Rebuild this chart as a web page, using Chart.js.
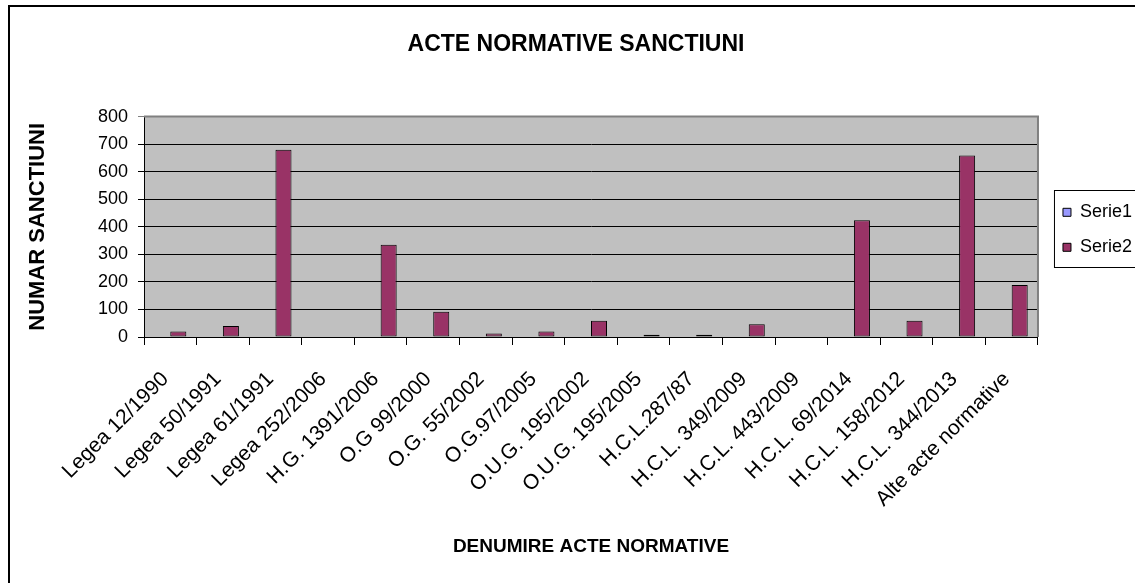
<!DOCTYPE html>
<html>
<head>
<meta charset="utf-8">
<script src="https://cdn.jsdelivr.net/npm/chart.js@4.4.1/dist/chart.umd.min.js"></script>
<style>
  html, body { margin: 0; padding: 0; background: #fff; overflow: hidden; }
  #wrap { width: 1135px; height: 583px; overflow: hidden; }
  canvas { display: block; }
</style>
</head>
<body>
<div id="wrap"><canvas id="chart" width="1142" height="583"></canvas></div>
<script>
// date
const categories = [
  'Legea 12/1990', 'Legea 50/1991', 'Legea 61/1991', 'Legea 252/2006',
  'H.G. 1391/2006', 'O.G 99/2000', 'O.G. 55/2002', 'O.G.97/2005',
  'O.U.G. 195/2002', 'O.U.G. 195/2005', 'H.C.L.287/87', 'H.C.L. 349/2009',
  'H.C.L. 443/2009', 'H.C.L. 69/2014', 'H.C.L. 158/2012', 'H.C.L. 344/2013',
  'Alte acte normative'
];
const serie1 = [null, null, null, null, null, null, null, null, null, null, null, null, null, null, null, null, null];
const serie2 = [20, 40, 680, 0, 335, 92, 13, 20, 59, 8, 8, 46, 0, 424, 59, 659, 189];
const yTicks = [0, 100, 200, 300, 400, 500, 600, 700, 800];

const FONT = "'Liberation Sans', Arial, sans-serif";
Chart.defaults.font.family = FONT;
Chart.defaults.color = '#000';

// fundal gri, chenare
const frame = {
  id: 'frame',
  beforeDraw(chart) {
    const { ctx, chartArea: a } = chart;
    ctx.save();
    ctx.fillStyle = '#fff';
    ctx.fillRect(0, 0, chart.width, chart.height);
    ctx.fillStyle = '#c0c0c0';
    ctx.fillRect(a.left, a.top, a.right - a.left, a.bottom - a.top);
    ctx.restore();
  },
  beforeDatasetsDraw(chart) {
    const { ctx, chartArea: a } = chart;
    ctx.save();
    ctx.strokeStyle = '#808080';
    ctx.lineWidth = 2;
    ctx.beginPath();
    ctx.moveTo(a.left, a.top);
    ctx.lineTo(a.right, a.top);
    ctx.lineTo(a.right, a.bottom);
    ctx.stroke();
    ctx.restore();
  },
  afterDraw(chart) {
    const { ctx, legend } = chart;
    ctx.save();
    ctx.strokeStyle = '#000';
    ctx.lineWidth = 2;
    ctx.strokeRect(9, 6, 1300, 800);
    const hb = legend.legendHitBoxes;
    if (hb && hb.length) {
      ctx.lineWidth = 1;
      const top = hb[0].top - 13;
      const bottom = hb[hb.length - 1].top + hb[hb.length - 1].height + 11;
      ctx.strokeRect(legend.left + 8.5, Math.round(top) + 0.5, 200, Math.round(bottom - top));
    }
    ctx.restore();
  }
};

new Chart(document.getElementById('chart'), {
  type: 'bar',
  data: {
    labels: categories,
    datasets: [
      { label: 'Serie1', data: serie1, backgroundColor: '#9999ff', borderColor: '#000', borderWidth: 1 },
      { label: 'Serie2', data: serie2, backgroundColor: '#993366', borderColor: '#000', borderWidth: 1 }
    ]
  },
  options: {
    responsive: false,
    animation: false,
    layout: { padding: { top: 6, left: 10, right: 0, bottom: 0 } },
    datasets: { bar: { categoryPercentage: 0.61, barPercentage: 1.0, borderSkipped: false } },
    plugins: {
      title: {
        display: true,
        text: 'ACTE NORMATIVE SANCTIUNI',
        font: { size: 23, weight: 'bold' },
        color: '#000',
        padding: { top: 25, bottom: 58 }
      },
      legend: {
        position: 'right',
        fullSize: false,
        // titlu gol, doar ca sa coboare putin elementele
        title: { display: true, text: ' ', font: { size: 6, lineHeight: 1 }, padding: 0 },
        labels: { boxWidth: 8, boxHeight: 8, padding: 17, font: { size: 18 }, color: '#000' }
      },
      tooltip: { enabled: false }
    },
    scales: {
      x: {
        afterFit(s) { s.height = 583 - 337; },
        grid: { drawOnChartArea: false, drawTicks: true, tickLength: 8, color: '#000' },
        border: { display: true, color: '#000', width: 1 },
        ticks: {
          autoSkip: false, minRotation: 45, maxRotation: 45,
          padding: 22, labelOffset: -5, font: { size: 21 }, color: '#000'
        },
        title: {
          display: true,
          text: 'DENUMIRE ACTE NORMATIVE',
          font: { size: 19, weight: 'bold' },
          color: '#000',
          padding: { top: 0, bottom: 25 }
        }
      },
      y: {
        min: 0,
        max: 800,
        afterFit(s) { s.width = 144 - 10; },
        afterBuildTicks(s) { s.ticks = yTicks.map(v => ({ value: v })); },
        grid: {
          color: c => (c.tick && c.tick.value === 800 ? '#808080' : '#000'),
          tickLength: 6,
          lineWidth: 1
        },
        border: { display: true, color: '#000', width: 1 },
        ticks: { padding: 10, font: { size: 18 }, color: '#000' },
        title: {
          display: true,
          text: 'NUMAR SANCTIUNI',
          font: { size: 22, weight: 'bold' },
          color: '#000',
          padding: { top: 15, bottom: 0 }
        }
      },
      // spatiu intre grafic si legenda
      gap: {
        type: 'linear',
        position: 'right',
        display: true,
        afterFit(s) { s.width = 8; },
        grid: { display: false },
        border: { display: false },
        ticks: { display: false }
      }
    }
  },
  plugins: [frame]
});
</script>
</body>
</html>
